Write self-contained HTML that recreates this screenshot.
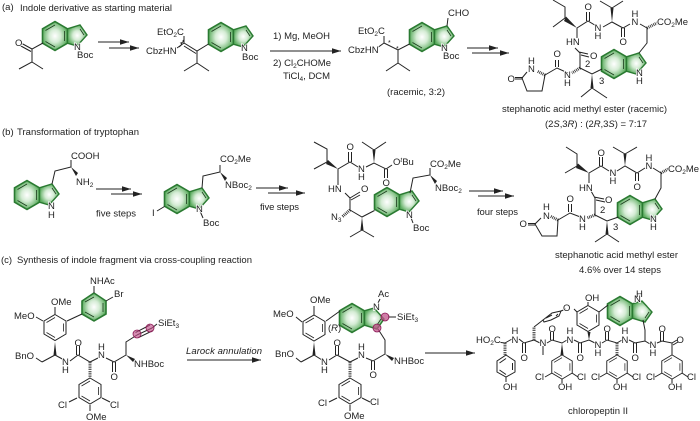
<!DOCTYPE html>
<html><head><meta charset="utf-8"><style>
html,body{margin:0;padding:0;background:#fff;width:700px;height:421px;overflow:hidden}
svg{display:block}
text{font-family:"Liberation Sans",sans-serif;font-size:9.5px;fill:#222}
.a{paint-order:stroke;stroke:#fff;stroke-width:1.6px}
.l{fill:none;stroke:#222;stroke-width:1}
.h{fill:none;stroke:#222;stroke-width:3;stroke-dasharray:.8 1}
.w{fill:#222;stroke:none}
tspan.s{font-size:6.5px}
</style></head><body>
<svg width="700" height="421" viewBox="0 0 700 421" xmlns="http://www.w3.org/2000/svg">
<defs>
<filter id="b" x="0" y="0" width="100%" height="100%"><feGaussianBlur stdDeviation=".28"/></filter>
<radialGradient id="g"><stop offset="0" stop-color="#fff"/><stop offset=".45" stop-color="#d5ecd5"/><stop offset="1" stop-color="#5fae62"/></radialGradient>
<g id="ind">
<path d="M0-14.4L12.5-7.2V7.2L0 14.4-12.5 7.2V-7.2Z" fill="url(#g)" stroke="#2a7a30" stroke-width="1.6"/>
<path d="M12.5-7.2L25-11 32-1 22 10 12.5 7.2Z" fill="url(#g)" stroke="#2a7a30" stroke-width="1.4"/>
<path d="M-9.5-5.500L0-11M9.500-5V5M-9.500 5.500L0 11M25-7L29-1" fill="none" stroke="#1d3d1f" stroke-width=".8"/>
</g>
<g id="ph"><path d="M0-13L11-6.500V6.500L0 13-11 6.500V-6.500Z" fill="none" stroke="#222" stroke-width="1"/><path d="M-8.500-5L0-10M8.500-4V4M-8.500 5L0 10" fill="none" stroke="#222" stroke-width=".8"/></g>
<marker id="ar" markerWidth="10" markerHeight="6" refX="9" refY="3" orient="auto" markerUnits="userSpaceOnUse"><path d="M0 0.200L9 3 0 5.800Z" fill="#222"/></marker>
</defs>
<g filter="url(#b)">
<!-- Titles -->
<text x="2" y="10">(a)</text><text x="20" y="11" textLength="152">Indole derivative as starting material</text>
<text x="2" y="135">(b)</text><text x="17" y="135" textLength="122">Transformation of tryptophan</text>
<text x="1" y="263">(c)</text><text x="17" y="263" textLength="235">Synthesis of indole fragment via cross-coupling reaction</text>

<!-- a1 -->
<use href="#ind" x="55" y="36"/>
<path class="l" d="M43 43L32 49 32 62 19 69M32 62L43 69M32 49L21 43M31 51.500L20 45.500"/>
<text class="a" x="15" y="46">O</text>
<text class="a" x="74" y="50">N</text><text x="77" y="58">Boc</text>
<!-- arrows a -->
<path class="l" d="M98 42H129" marker-end="url(#ar)"/><path class="l" d="M109 48H139" marker-end="url(#ar)"/>
<!-- a2 -->
<use href="#ind" x="221" y="37"/>
<path class="l" d="M184 43L197 51 208.500 44M184 46L196 53.500M197 51V63L184 71M197 63L209 71M184 43V36M184 43L177 48"/>
<path class="l" d="M179 47Q183 44 181 43Q184 42 183 40" stroke-width=".7"/>
<text class="a" x="157" y="35">EtO<tspan class="s" dy="2">2</tspan><tspan dy="-2">C</tspan></text>
<text class="a" x="146" y="54">CbzHN</text>
<text class="a" x="241" y="51">N</text><text x="242" y="60">Boc</text>
<path class="l" d="M270 51H341" marker-end="url(#ar)"/>
<text x="273" y="39">1) Mg, MeOH</text>
<text x="273" y="66">2) Cl<tspan class="s" dy="2">2</tspan><tspan dy="-2">CHOMe</tspan></text>
<text x="283" y="79">TiCl<tspan class="s" dy="2">4</tspan><tspan dy="-2">, DCM</tspan></text>
<!-- a3 -->
<use href="#ind" x="422" y="37"/>
<path class="l" d="M384 43L398 50 409.500 44M398 50V63L386 71M398 63L410 71M384 43V36M384 43L377 48M447 26L448 18"/>
<text class="a" x="358" y="34">EtO<tspan class="s" dy="2">2</tspan><tspan dy="-2">C</tspan></text>
<text class="a" x="348" y="53">CbzHN</text>
<text x="448" y="16">CHO</text>
<text class="a" x="441" y="51">N</text><text x="443" y="59">Boc</text>
<text x="388" y="45" style="font-size:7px">*</text><text x="396" y="51" style="font-size:7px">*</text>
<text x="387" y="95" textLength="58">(racemic, 3:2)</text>
<path class="l" d="M467 48H498" marker-end="url(#ar)"/><path class="l" d="M472 53H509" marker-end="url(#ar)"/>
<!-- a4 -->
<use href="#ind" x="614" y="64"/>
<path class="l" d="M553 0L565 7V18L553 27M577 28L588 21 598 27M586.500 21V12M589.500 21V12M603 27L612 22 623 28 630 24M621.500 28V37M624.500 28V37M640 24L647 28V43L639 53M577 28V38M575 48L580 53V68M579 52L588 54M581 55L589 57M580 68L592 74 602 69M592 88L581 97M592 88L607 98M568 73L557 68 545 75M555.500 67V60M558.500 67V60M545 75L542 91H527L522 78 527 72M523 79H515M523 77.500H515M612 8L600 1M612 8L623 1"/>
<path class="w" d="M577 28L564 21 566 16.500Z"/><path class="w" d="M612 22L610.500 8H613.500Z"/><path class="w" d="M592 74L590.500 88H593.500Z"/>
<path class="h" d="M647 28L657 23M580 68L572 73M545 75L537 71"/>
<text x="584.500" y="10">O</text><text x="619.500" y="45">O</text><text class="a" x="594.500" y="31">N</text><text x="594.500" y="39">H</text>
<text class="a" x="631.500" y="25">N</text><text x="631.500" y="17">H</text>
<text class="a" x="657" y="25">CO<tspan class="s" dy="2">2</tspan><tspan dy="-2">Me</tspan></text>
<text class="a" x="566" y="45">HN</text><text x="590" y="59">O</text><text x="585" y="67">2</text><text x="599" y="84">3</text>
<text class="a" x="564" y="78">N</text><text x="564" y="86">H</text><text x="553.500" y="57">O</text>
<text class="a" x="528" y="72">N</text><text x="528" y="64">H</text><text x="507.500" y="82">O</text>
<text class="a" x="636" y="76">N</text><text x="636" y="84">H</text>
<text x="502" y="112" textLength="165">stephanotic acid methyl ester (racemic)</text>
<text x="545" y="127" textLength="102">(2<tspan font-style="italic">S</tspan>,3<tspan font-style="italic">R</tspan>) : (2<tspan font-style="italic">R</tspan>,3<tspan font-style="italic">S</tspan>) = 7:17</text>

<!-- b1 -->
<use href="#ind" x="27" y="195"/>
<path class="l" d="M52 184L55 171 71 167V160"/><path class="w" d="M71 167L76 176 78 173Z"/>
<text class="a" x="71" y="159">COOH</text>
<text x="76" y="185">NH<tspan class="s" dy="2">2</tspan></text>
<text class="a" x="48" y="209">N</text><text x="48" y="218">H</text>
<path class="l" d="M96 189H131" marker-end="url(#ar)"/><path class="l" d="M111 194H142" marker-end="url(#ar)"/>
<text x="96" y="216.500" textLength="40">five steps</text>
<!-- b2 -->
<use href="#ind" x="177" y="199"/>
<path class="l" d="M164.500 206.500L157 211M202 188L203 176 220 172V165M200 211L203 218"/><path class="w" d="M220 172L225 181 227 178Z"/>
<text x="152" y="216">I</text>
<text class="a" x="220" y="162">CO<tspan class="s" dy="2">2</tspan><tspan dy="-2">Me</tspan></text>
<text class="a" x="225" y="188">NBoc<tspan class="s" dy="2">2</tspan></text>
<text class="a" x="196" y="212">N</text><text x="203" y="226">Boc</text>
<path class="l" d="M256 188H288" marker-end="url(#ar)"/><path class="l" d="M268 193H305" marker-end="url(#ar)"/>
<text x="260" y="210" textLength="39">five steps</text>
<!-- b3 -->
<use href="#ind" x="387" y="202"/>
<path class="l" d="M314 142L327 149V162L314 169M338 169L350 162 358 167M348.500 162V152M351.500 162V152M366 167L374 163 386 169 392 165M384.500 169V178M387.500 169V178M338 169V185M345 193L350 198V210M350 198L360 192M351 200L360 195M350 210L362 217 374.500 210.500M362 230L350 237M362 230L374 237M410 193L413 178 430 175V168M410 215L413 223M374 150L362 142M374 150L386 142"/>
<path class="w" d="M338 169L326 164 328 160Z"/><path class="w" d="M374 163L372.500 150H375.500Z"/><path class="w" d="M362 217L360.500 230H363.500Z"/><path class="w" d="M430 175L435 184 437 181Z"/>
<path class="h" d="M350 210L342 217"/>
<text x="346.500" y="150">O</text><text class="a" x="358" y="172">N</text><text x="358" y="180">H</text><text x="382.500" y="186">O</text>
<text class="a" x="393" y="165">O<tspan class="s" dy="-3" font-style="italic">t</tspan><tspan dy="3">Bu</tspan></text>
<text class="a" x="328" y="192">HN</text><text x="361" y="192">O</text>
<text class="a" x="331" y="220">N<tspan class="s" dy="2">3</tspan></text>
<text class="a" x="430" y="167">CO<tspan class="s" dy="2">2</tspan><tspan dy="-2">Me</tspan></text>
<text class="a" x="435" y="191">NBoc<tspan class="s" dy="2">2</tspan></text>
<text class="a" x="406" y="218">N</text><text x="413" y="231">Boc</text>
<path class="l" d="M469 191H503" marker-end="url(#ar)"/><path class="l" d="M478 196H514" marker-end="url(#ar)"/>
<text x="477" y="215" textLength="41">four steps</text>
<!-- b4 -->
<use href="#ind" x="630" y="210"/>
<path class="l" d="M566 147L577 154V166L565 173M589 173L601 166 609 171M599.500 166V157M602.500 166V157M617 171L625 166 637 173 645 168M635.500 173V181M638.500 173V181M653 168L661 173V188L655 199M589 173V183M591 191L595 198V215M594 197L604 199M596 200L605 202M595 215L607 221 618.500 217M607 234L595 242M607 234L619 242M583 218L570 213 558 220M568.500 212V204M571.500 212V204M558 220L557 236H542L535 224 541 218M536 225H528M536 223.500H528M625 154L613 147M625 154L637 147"/>
<path class="w" d="M589 173L576 168 578 163.500Z"/><path class="w" d="M625 166L623.500 154H626.500Z"/><path class="w" d="M607 221L605.500 234H608.500Z"/>
<path class="h" d="M661 173L670 168M595 215L587 218M558 220L550 216"/>
<text x="597.500" y="156">O</text><text x="633.500" y="190">O</text><text class="a" x="609.500" y="176">N</text><text x="609.500" y="184">H</text>
<text class="a" x="645.500" y="169">N</text><text x="645.500" y="161">H</text>
<text class="a" x="668" y="172">CO<tspan class="s" dy="2">2</tspan><tspan dy="-2">Me</tspan></text>
<text class="a" x="579" y="191">HN</text><text x="605" y="203">O</text><text x="600" y="213">2</text><text x="613" y="230">3</text>
<text class="a" x="579" y="222">N</text><text x="579" y="230">H</text><text x="566.500" y="202">O</text>
<text class="a" x="543" y="219">N</text><text x="543" y="210">H</text><text x="519.500" y="227">O</text>
<text class="a" x="650" y="222">N</text><text x="650" y="230">H</text>
<text x="555" y="258" textLength="123">stephanotic acid methyl ester</text>
<text x="579" y="273" textLength="82">4.6% over 14 steps</text>

<!-- c1 -->
<use href="#ph" x="55" y="327.500"/>
<path d="M94 293L106 301V314L94 321 82 314V301Z" fill="url(#g)" stroke="#2a7a30" stroke-width="1.6"/>
<path d="M85 302L94 297M103 303V312M85 312L94 317" fill="none" stroke="#1d3d1f" stroke-width=".8"/>
<path class="l" d="M55 314V307M43 321L36 317M67 321L82 314M94 293V286M106 301L113 297M42 362L55 355 66 361M42 362L36 358M70 361L78 355 90 362 98 358M76.500 355V346M79.500 355V346M106 358L114 362 126 355V342L137 335M112.500 362V372M115.500 362V372M135.500 332.500L150 325M137 335L152 328M138.500 337.500L153 330.500M152 328L157 324M77 398L69 402M102 398L110 402M90 405V411"/>
<use href="#ph" x="90" y="391"/>
<path class="w" d="M55 342L53.500 355H56.500Z"/><path class="w" d="M126 355L133 362 135 359Z"/>
<path class="h" d="M90 362V377"/>
<circle cx="137" cy="334" r="4" fill="#c2528a" fill-opacity=".65" stroke="#8b1a55" stroke-width=".8"/>
<circle cx="150" cy="328" r="4" fill="#c2528a" fill-opacity=".65" stroke="#8b1a55" stroke-width=".8"/>
<text x="51" y="305">OMe</text><text class="a" x="14" y="319">MeO</text><text x="90" y="284">NHAc</text><text x="114" y="297">Br</text>
<text class="a" x="15" y="359">BnO</text><text class="a" x="62" y="365">N</text><text x="62" y="373">H</text><text x="74.500" y="346">O</text>
<text class="a" x="98" y="358">N</text><text x="98" y="350">H</text><text x="110.500" y="380">O</text>
<text x="158" y="326">SiEt<tspan class="s" dy="2">3</tspan></text><text x="134" y="367">NHBoc</text>
<text x="58" y="408">Cl</text><text x="110" y="408">Cl</text><text x="86" y="420">OMe</text>
<text x="186" y="354" font-style="italic" textLength="76">Larock annulation</text>
<path class="l" d="M187 360H261" marker-end="url(#ar)"/>

<!-- c2 -->
<use href="#ph" x="314" y="328"/>
<use href="#ind" transform="translate(352 318) scale(1 -1)"/>
<path class="l" d="M314 315V306M302 322L296 317M326 321L340 311M301 362L314 355 322 360M301 362L296 358M329 360L337 355 350 362 358 358M335.500 355V346M338.500 355V346M366 358L373 361 385 354V340L378 329M371.500 361V370M374.500 361V370M337 398L329 402M362 398L370 402M350 405V411M378 303L380 299M388 317H396"/>
<use href="#ph" x="350" y="391"/>
<path class="w" d="M314 342L312.500 355H315.500Z"/><path class="w" d="M385 354L392 361 394 358Z"/>
<path class="h" d="M350 362V377"/>
<circle cx="385" cy="317" r="4" fill="#c2528a" fill-opacity=".75" stroke="#8b1a55" stroke-width=".8"/>
<circle cx="377" cy="328" r="4" fill="#c2528a" fill-opacity=".75" stroke="#8b1a55" stroke-width=".8"/>
<text x="310" y="303">OMe</text><text class="a" x="273" y="317">MeO</text><text x="328" y="331" >(<tspan font-style="italic">R</tspan>)</text>
<text x="378" y="297">Ac</text><text class="a" x="373" y="310">N</text><text x="397" y="320">SiEt<tspan class="s" dy="2">3</tspan></text>
<text class="a" x="275" y="357">BnO</text><text class="a" x="321" y="365">N</text><text x="321" y="373">H</text><text x="333.500" y="346">O</text>
<text class="a" x="358" y="358">N</text><text x="358" y="350">H</text><text x="369.500" y="378">O</text><text x="394" y="364">NHBoc</text>
<text x="318" y="406">Cl</text><text x="370" y="405">Cl</text><text x="344" y="419">OMe</text>
<path class="l" d="M425 353H475" marker-end="url(#ar)"/>

<!-- c3 -->
<use href="#ph" x="588" y="318.500"/>
<use href="#ind" transform="translate(620 311) scale(1 -1)"/>
<path class="l" d="M543 320L552 313 561 311 559 316 551 320 544 322ZM546 318L552 315M556 316L558 314"/>
<path class="l" d="M561 311L566 309M574 309L577 312M588 305V302M599 312L608 305M643 320L645 330V341M505 343L497 342M505 343L512 339M519 339L524 343 534 340M522.500 343V353M525.500 343V353M534 327L543 320M534 340L540 343M547 343L552 340 562 343 567 340M550.500 340V332M553.500 340V332M543 346V355M574 340L580 343 589 340 595 343M578.500 343V353M581.500 343V353M602 343L607 340 617 343 622 340M605.500 340V332M608.500 340V332M629 340L635 343 645 341 650 344M633.500 343V353M636.500 343V353M657 343L662 341 672 343 677 340M660.500 341V332M663.500 341V332M673 345L678 342M672 343V355"/>
<path class="w" d="M589 340L587.500 332H590.500Z"/><path class="w" d="M562 343L560.500 355H563.500Z"/>
<path class="h" d="M534 340V327M505 343V355M617 343V355"/>
<path d="M506 355L515 361V372L506 377 497 372V361Z" fill="none" stroke="#222" stroke-width="1"/><path d="M499.500 363L506 358.500M512.500 363V370M499.500 370L506 374.500" class="l"/>
<path class="l" d="M506 377V382"/>
<g transform="translate(562 367) scale(.93)"><use href="#ph"/></g>
<g transform="translate(617 367) scale(.93)"><use href="#ph"/></g>
<g transform="translate(672 367) scale(.93)"><use href="#ph"/></g>
<path class="l" d="M552 373L545 377M572 373L578 377M607 373L600 377M627 373L633 377M662 373L655 377M682 373L688 377M562 379V383M617 379V383M672 379V383"/>
<text class="a" x="476" y="343">HO<tspan class="s" dy="2">2</tspan><tspan dy="-2">C</tspan></text>
<text class="a" x="511.500" y="343">N</text><text x="511.500" y="334">H</text><text x="520.500" y="361">O</text><text x="503" y="390">OH</text>
<text class="a" x="539.500" y="346">N</text><text x="548.500" y="332">O</text>
<text class="a" x="566.500" y="343">N</text><text x="566.500" y="334">H</text><text x="576.500" y="361">O</text>
<text class="a" x="594.500" y="348">N</text><text x="594.500" y="356">H</text><text x="603.500" y="332">O</text>
<text class="a" x="621.500" y="343">N</text><text x="621.500" y="334">H</text><text x="631.500" y="361">O</text>
<text class="a" x="649.500" y="348">N</text><text x="649.500" y="356">H</text><text x="658.500" y="332">O</text><text x="676.500" y="343">O</text>
<text class="a" x="563" y="311">O</text><text x="585" y="301">OH</text><text class="a" x="634" y="302">N</text><text x="636" y="297">H</text>
<text x="535" y="380">Cl</text><text x="577" y="380">Cl</text><text x="558" y="390">OH</text>
<text x="591" y="380">Cl</text><text x="632" y="380">Cl</text><text x="613" y="390">OH</text>
<text x="646" y="380">Cl</text><text x="687" y="380">Cl</text><text x="668" y="390">OH</text>
<text x="568" y="414" textLength="60">chloropeptin II</text>
</g>
</svg>
</body></html>
